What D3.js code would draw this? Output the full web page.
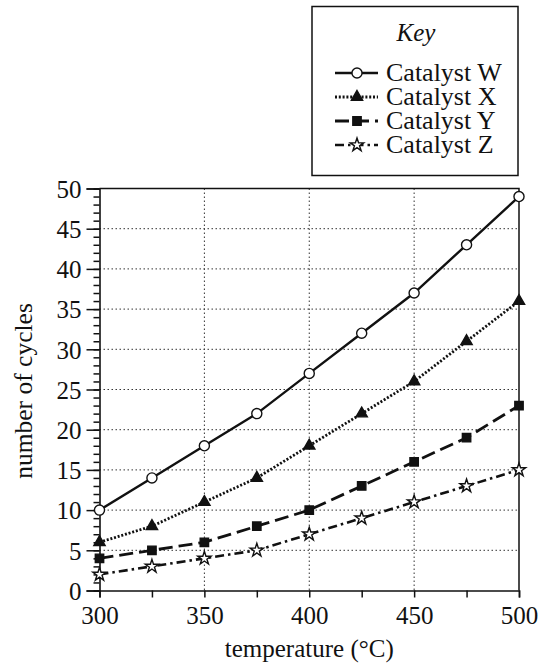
<!DOCTYPE html>
<html>
<head>
<meta charset="utf-8">
<script src="https://cdn.jsdelivr.net/npm/d3@7"></script>
<style>
  body { margin: 0; background: #fff; }
  svg text { font-family: "Liberation Serif", "Times New Roman", Times, "DejaVu Serif", serif; fill: #111; }
</style>
</head>
<body>
<script>
// data
var temps = [300, 325, 350, 375, 400, 425, 450, 475, 500];
var catW = [10, 14, 18, 22, 27, 32, 37, 43, 49];
var catX = [6, 8, 11, 14, 18, 22, 26, 31, 36];
var catY = [4, 5, 6, 8, 10, 13, 16, 19, 23];
var catZ = [2, 3, 4, 5, 7, 9, 11, 13, 15];
var names = ["Catalyst W", "Catalyst X", "Catalyst Y", "Catalyst Z"];
var xTicks = [300, 350, 400, 450, 500];
var yTicks = [0, 5, 10, 15, 20, 25, 30, 35, 40, 45, 50];

var series = [
  { name: names[0], values: catW, dash: null, sym: d3.symbolCircle, size: 80, fill: "#fff", width: 2.4 },
  { name: names[1], values: catX, dash: "2,1.8", sym: d3.symbolTriangle, size: 55, fill: "#111", width: 2.8 },
  { name: names[2], values: catY, dash: "14,6", sym: d3.symbolSquare, size: 70, fill: "#111", width: 2.8 },
  { name: names[3], values: catZ, dash: "9,4,2.5,4", sym: d3.symbolStar, size: 55, fill: "#fff", width: 2.6 }
];

var W = 541, H = 667;
var plot = { left: 99.5, right: 519, top: 188.5, bottom: 590.5 };
var serif = "'Liberation Serif', 'Times New Roman', Times, 'DejaVu Serif', serif";

var svg = d3.select("body").append("svg")
  .attr("width", W)
  .attr("height", H)
  .attr("font-family", serif);

var x = d3.scaleLinear().domain([300, 500]).range([plot.left, plot.right]);
var y = d3.scaleLinear().domain([0, 50]).range([plot.bottom, plot.top]);

// grid
var grid = svg.append("g").attr("stroke", "#333").attr("stroke-width", 1).attr("stroke-dasharray", "1.5,2.5");
grid.selectAll(".gy")
  .data(yTicks.filter(function(d) { return d > 0 && d < 50; }))
  .enter().append("line")
  .attr("x1", plot.left).attr("x2", plot.right)
  .attr("y1", function(d) { return y(d); })
  .attr("y2", function(d) { return y(d); });
grid.selectAll(".gx")
  .data(xTicks.filter(function(d) { return d > 300 && d < 500; }))
  .enter().append("line")
  .attr("y1", plot.top).attr("y2", plot.bottom)
  .attr("x1", function(d) { return x(d); })
  .attr("x2", function(d) { return x(d); });

// frame top + right
svg.append("path")
  .attr("d", "M" + plot.left + "," + plot.top + "H" + plot.right + "V" + plot.bottom)
  .attr("fill", "none").attr("stroke", "#111").attr("stroke-width", 1.5);

// y axis: major outside + minor every 1
var yAxis = svg.append("g").attr("transform", "translate(" + plot.left + ",0)")
  .call(d3.axisLeft(y).tickValues(yTicks).tickSize(13).tickPadding(5));
svg.append("g").attr("transform", "translate(" + plot.left + ",0)")
  .call(d3.axisLeft(y).tickValues(d3.range(0, 51)).tickSize(6).tickFormat(""))
  .select(".domain").remove();

var xAxis = svg.append("g").attr("transform", "translate(0," + plot.bottom + ")")
  .call(d3.axisBottom(x).tickValues(temps).tickSize(7).tickPadding(9)
    .tickFormat(function(d) { return xTicks.indexOf(d) >= 0 ? d : ""; }));

svg.selectAll(".domain").attr("stroke", "#111").attr("stroke-width", 1.6);
svg.selectAll(".tick line").attr("stroke", "#111").attr("stroke-width", 1.5);
svg.selectAll("g").attr("font-family", serif);
svg.selectAll(".tick text").style("font-size", "25px").attr("fill", "#111");
yAxis.selectAll(".tick text").attr("dy", "0.35em");
xAxis.selectAll(".tick text").attr("dy", "0.71em");

// axis titles
svg.append("text")
  .attr("x", (plot.left + plot.right) / 2).attr("y", 657)
  .attr("text-anchor", "middle")
  .style("font-size", "25px")
  .text("temperature (°C)");
svg.append("text")
  .attr("transform", "translate(32,391) rotate(-90)")
  .attr("text-anchor", "middle")
  .style("font-size", "25.5px")
  .text("number of cycles");

// lines
var line = d3.line()
  .x(function(d, i) { return x(temps[i]); })
  .y(function(d) { return y(d); });

series.forEach(function(s) {
  svg.append("path")
    .attr("d", line(s.values))
    .attr("fill", "none")
    .attr("stroke", "#111")
    .attr("stroke-width", s.width)
    .attr("stroke-dasharray", s.dash);
  svg.selectAll(null)
    .data(s.values)
    .enter().append("path")
    .attr("d", d3.symbol().type(s.sym).size(s.size))
    .attr("transform", function(d, i) { return "translate(" + x(temps[i]) + "," + y(d) + ")"; })
    .attr("fill", s.fill)
    .attr("stroke", "#111")
    .attr("stroke-width", 1.4);
});

// key
var key = svg.append("g");
key.append("rect")
  .attr("x", 312).attr("y", 6.5).attr("width", 206).attr("height", 169)
  .attr("fill", "#fff").attr("stroke", "#111").attr("stroke-width", 1.5);
key.append("text")
  .attr("x", 416).attr("y", 41)
  .attr("text-anchor", "middle")
  .style("font-size", "25px").style("font-style", "italic")
  .text("Key");

series.forEach(function(s, i) {
  var yy = 73 + i * 24;
  key.append("line")
    .attr("x1", 335).attr("x2", 378)
    .attr("y1", yy).attr("y2", yy)
    .attr("stroke", "#111")
    .attr("stroke-width", s.width)
    .attr("stroke-dasharray", s.dash);
  key.append("path")
    .attr("d", d3.symbol().type(s.sym).size(s.size))
    .attr("transform", "translate(357," + yy + ")")
    .attr("fill", s.fill)
    .attr("stroke", "#111")
    .attr("stroke-width", 1.4);
  key.append("text")
    .attr("x", 386).attr("y", yy + 8)
    .style("font-size", "26px")
    .text(s.name);
});
</script>
</body>
</html>
